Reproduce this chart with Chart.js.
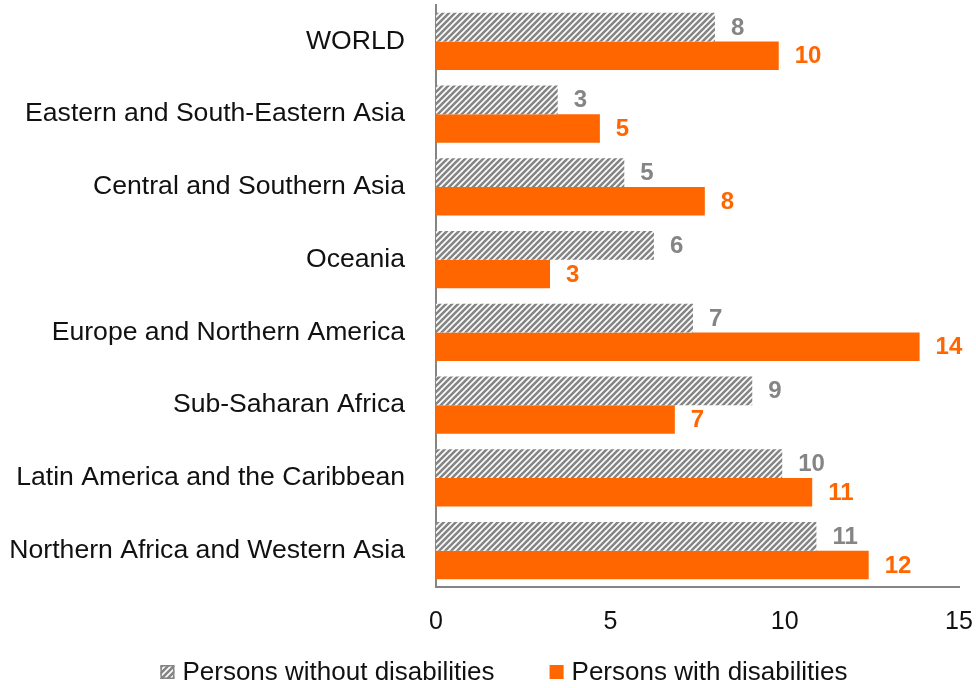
<!DOCTYPE html>
<html>
<head>
<meta charset="utf-8">
<script src="https://cdn.jsdelivr.net/npm/chart.js@4.4.1/dist/chart.umd.min.js"></script>
<style>
  html, body { margin: 0; padding: 0; background: #fff; }
  #wrap { width: 976px; height: 688px; position: relative; }
</style>
</head>
<body>
<div id="wrap"><canvas id="regioes"></canvas></div>
<script>
const regions = [
  "WORLD",
  "Eastern and South-Eastern Asia",
  "Central and Southern Asia",
  "Oceania",
  "Europe and Northern America",
  "Sub-Saharan Africa",
  "Latin America and the Caribbean",
  "Northern Africa and Western Asia"
];
const withoutDisab = [8.0, 3.49, 5.4, 6.25, 7.37, 9.07, 9.93, 10.91];
const withDisab = [9.83, 4.7, 7.71, 3.27, 13.87, 6.85, 10.79, 12.41];
const xTicks = [0, 5, 10, 15];

const grey = "#858585";
const orange = "#ff6600";
const fontFam = "'Liberation Sans', Arial, sans-serif";

// hachura diagonal para a serie cinza
function hatch() {
  const c = document.createElement("canvas");
  c.width = 6; c.height = 6;
  const g = c.getContext("2d");
  g.fillStyle = "#fff";
  g.fillRect(0, 0, 6, 6);
  g.strokeStyle = grey;
  g.lineWidth = 2.6;
  g.beginPath();
  g.moveTo(-1, 7); g.lineTo(7, -1);
  g.moveTo(-4, 4); g.lineTo(4, -4);
  g.moveTo(2, 10); g.lineTo(10, 2);
  g.stroke();
  return g.createPattern(c, "repeat");
}

// rotulos de valor no fim das barras (arredondados)
const valueLabels = {
  id: "valueLabels",
  afterDatasetsDraw(chart) {
    const ctx = chart.ctx;
    ctx.save();
    ctx.font = "bold 24px " + fontFam;
    ctx.textBaseline = "middle";
    ctx.textAlign = "left";
    chart.data.datasets.forEach((ds, i) => {
      const meta = chart.getDatasetMeta(i);
      ctx.fillStyle = i === 0 ? grey : orange;
      meta.data.forEach((bar, j) => {
        ctx.fillText(Math.round(ds.data[j]), bar.x + 16, bar.y + 1);
      });
    });
    ctx.restore();
  }
};

// legenda desenhada na faixa de baixo, centrada um pouco a direita
const bottomLegend = {
  id: "bottomLegend",
  afterDraw(chart) {
    const ctx = chart.ctx;
    const box = 14, gapText = 8, gapItem = 55, cy = 672, cx = 504;
    ctx.save();
    ctx.font = "26px " + fontFam;
    ctx.textBaseline = "middle";
    ctx.textAlign = "left";
    const ds = chart.data.datasets;
    const widths = ds.map(d => ctx.measureText(d.label).width);
    const total = widths.reduce((s, w) => s + w + box + gapText, 0) + gapItem * (ds.length - 1);
    let x = cx - total / 2;
    ds.forEach((d, i) => {
      ctx.fillStyle = d.backgroundColor;
      ctx.fillRect(x, cy - box / 2, box, box);
      if (i === 0) {
        ctx.strokeStyle = grey;
        ctx.lineWidth = 1.5;
        ctx.strokeRect(x + 0.75, cy - box / 2 + 0.75, box - 1.5, box - 1.5);
      }
      ctx.fillStyle = "#111";
      ctx.fillText(d.label, x + box + gapText, cy + 1);
      x += box + gapText + widths[i] + gapItem;
    });
    ctx.restore();
  }
};

const ctx1 = document.getElementById("regioes");
Chart.defaults.font.family = fontFam;
Chart.defaults.color = "#111";

new Chart(ctx1, {
  type: "bar",
  data: {
    labels: regions,
    datasets: [
      {
        label: "Persons without disabilities",
        data: withoutDisab,
        backgroundColor: hatch(),
        borderWidth: 0,
        categoryPercentage: 0.79,
        barPercentage: 1.0
      },
      {
        label: "Persons with disabilities",
        data: withDisab,
        backgroundColor: orange,
        borderWidth: 0,
        categoryPercentage: 0.79,
        barPercentage: 1.0
      }
    ]
  },
  options: {
    indexAxis: "y",
    responsive: true,
    maintainAspectRatio: false,
    animation: false,
    layout: { padding: { top: 5, right: 0, left: 0, bottom: 51 } },
    scales: {
      x: {
        min: 0,
        max: 15,
        afterBuildTicks: (s) => { s.ticks = xTicks.map(v => ({ value: v })); },
        grid: { display: false, drawTicks: false },
        border: { display: true, color: grey, width: 2 },
        ticks: { font: { size: 25 }, color: "#111", padding: 20 },
        afterFit: (s) => { s.height = 50; s.paddingRight = 17; }
      },
      y: {
        grid: { display: false, drawTicks: false },
        border: { display: true, color: grey, width: 2 },
        ticks: { font: { size: 26.6 }, color: "#111", padding: 31 },
        afterFit: (s) => { s.width = 436; s.paddingTop = 0; s.paddingBottom = 0; }
      }
    },
    plugins: {
      legend: { display: false },
      tooltip: { enabled: false }
    }
  },
  plugins: [valueLabels, bottomLegend]
});
</script>
</body>
</html>
